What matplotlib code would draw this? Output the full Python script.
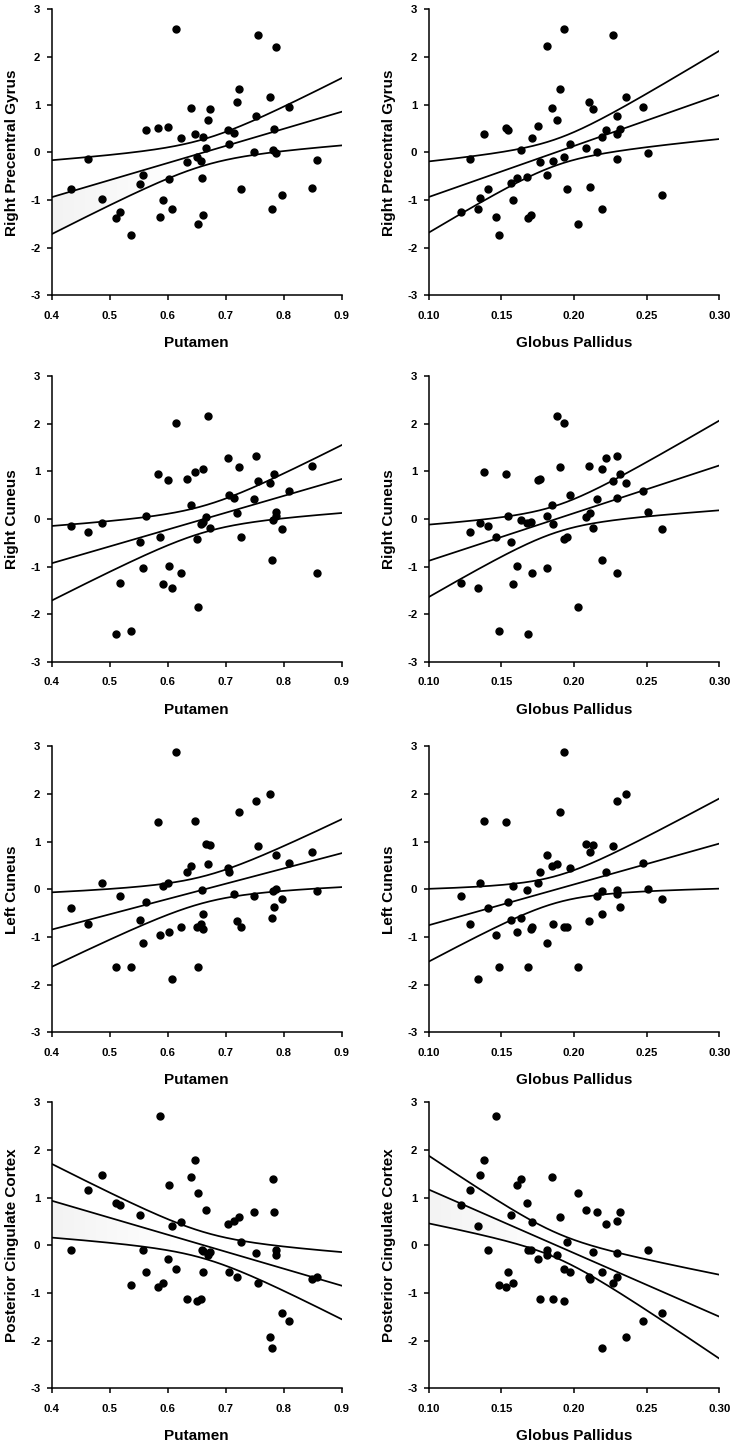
import numpy as np
import matplotlib
matplotlib.use('Agg')
import matplotlib.pyplot as plt
from matplotlib.patches import Polygon
from matplotlib.colors import LinearSegmentedColormap

plt.rcParams['font.family'] = ['Liberation Sans', 'DejaVu Sans']
plt.rcParams['font.weight'] = 'bold'

# ---------------- data ----------------
putamen = [0.434, 0.463, 0.486, 0.510, 0.517, 0.536, 0.553, 0.558, 0.562, 0.583,
           0.587, 0.592, 0.600, 0.603, 0.607, 0.614, 0.623, 0.633, 0.640, 0.647,
           0.650, 0.653, 0.657, 0.659, 0.661, 0.661, 0.666, 0.670, 0.673, 0.704,
           0.705, 0.714, 0.719, 0.723, 0.726, 0.749, 0.752, 0.756, 0.776, 0.779,
           0.781, 0.784, 0.787, 0.787, 0.797, 0.809, 0.849, 0.858]

globus_pallidus = [0.1225, 0.1282, 0.1342, 0.1356, 0.1383, 0.1406, 0.1466, 0.1486, 0.1534, 0.1546,
                   0.1569, 0.1580, 0.1610, 0.1638, 0.1677, 0.1683, 0.1702, 0.1713, 0.1750, 0.1764,
                   0.1817, 0.1817, 0.1851, 0.1856, 0.1885, 0.1904, 0.1929, 0.1929, 0.1952, 0.1972,
                   0.2028, 0.2080, 0.2101, 0.2110, 0.2128, 0.2161, 0.2190, 0.2195, 0.2220, 0.2266,
                   0.2294, 0.2298, 0.2298, 0.2319, 0.2356, 0.2475, 0.2507, 0.2608]

# y values aligned with the putamen list
rpg_vs_putamen = [-0.76, -0.15, -0.97, -1.37, -1.26, -1.73, -0.66, -0.48, 0.47, 0.51,
                  -1.35, -1.01, 0.54, -0.55, -1.19, 2.58, 0.30, -0.21, 0.93, 0.39,
                  -0.09, -1.50, -0.19, -0.53, -1.32, 0.32, 0.09, 0.68, 0.91, 0.47,
                  0.17, 0.40, 1.05, 1.32, -0.77, 0.00, 0.77, 2.47, 1.17, -1.19,
                  0.05, 0.49, -0.02, 2.21, -0.89, 0.96, -0.74, -0.16]
rcun_vs_putamen = [-0.14, -0.28, -0.09, -2.41, -1.34, -2.36, -0.48, -1.03, 0.07, 0.95,
                   -0.37, -1.36, 0.82, -0.98, -1.45, 2.01, -1.13, 0.84, 0.29, 0.99,
                   -0.41, -1.84, -0.10, -0.08, -0.06, 1.05, 0.05, 2.17, -0.18, 1.28,
                   0.51, 0.45, 0.12, 1.09, -0.37, 0.42, 1.33, 0.79, 0.76, -0.85,
                   -0.03, 0.94, 0.14, 0.07, -0.22, 0.59, 1.11, -1.14]
lcun_vs_putamen = [-0.39, -0.72, 0.13, -1.64, -0.14, -1.64, -0.65, -1.12, -0.26, 1.42,
                   -0.96, 0.06, 0.13, -0.89, -1.88, 2.89, -0.80, 0.36, 0.49, 1.43,
                   -0.80, -1.64, -0.72, -0.02, -0.51, -0.83, 0.94, 0.53, 0.92, 0.44,
                   0.37, -0.09, -0.67, 1.62, -0.80, -0.14, 1.86, 0.91, 2.00, -0.60,
                   -0.04, -0.37, 0.01, 0.71, -0.21, 0.56, 0.78, -0.03]
pcc_vs_putamen = [-0.10, 1.17, 1.48, 0.88, 0.85, -0.83, 0.63, -0.10, -0.57, -0.87,
                  2.71, -0.80, -0.29, 1.27, 0.41, -0.49, 0.49, -1.13, 1.44, 1.80,
                  -1.17, 1.10, -1.13, -0.10, -0.55, -0.13, 0.74, -0.21, -0.15, 0.44,
                  -0.56, 0.52, -0.66, 0.59, 0.06, 0.70, -0.17, -0.80, -1.92, -2.15,
                  1.39, 0.70, -0.09, -0.21, -1.43, -1.59, -0.71, -0.67]

# y values aligned with the globus pallidus list
rpg_vs_gp = [-1.26, -0.15, -1.19, -0.96, 0.39, -0.77, -1.35, -1.73, 0.52, 0.47,
             -0.65, -1.01, -0.54, 0.05, -0.52, -1.37, -1.32, 0.30, 0.55, -0.21,
             2.22, -0.48, 0.93, -0.19, 0.68, 1.32, 2.58, -0.10, -0.77, 0.18,
             -1.50, 0.09, 1.05, -0.73, 0.91, 0.00, 0.32, -1.19, 0.46, 2.47,
             -0.15, 0.77, 0.39, 0.49, 1.17, 0.96, -0.02, -0.89]
rcun_vs_gp = [-1.34, -0.28, -1.44, -0.09, 0.99, -0.14, -0.37, -2.36, 0.94, 0.07,
              -0.48, -1.36, -0.98, -0.03, -0.08, -2.41, -0.06, -1.13, 0.82, 0.84,
              0.06, -1.03, 0.29, -0.10, 2.17, 1.09, 2.01, -0.41, -0.37, 0.51,
              -1.84, 0.05, 1.12, 0.12, -0.18, 0.42, 1.05, -0.85, 1.28, 0.79,
              1.33, 0.45, -1.14, 0.94, 0.76, 0.59, 0.14, -0.22]
lcun_vs_gp = [-0.14, -0.72, -1.88, 0.13, 1.43, -0.39, -0.96, -1.64, 1.42, -0.26,
              -0.65, 0.06, -0.89, -0.60, -0.02, -1.64, -0.83, -0.80, 0.13, 0.36,
              0.71, -1.12, 0.49, -0.72, 0.53, 1.62, 2.89, -0.80, -0.80, 0.44,
              -1.64, 0.94, -0.67, 0.78, 0.92, -0.14, -0.51, -0.04, 0.37, 0.91,
              -0.09, 1.86, -0.02, -0.37, 2.00, 0.56, 0.01, -0.21]
pcc_vs_gp = [0.85, 1.17, 0.41, 1.48, 1.80, -0.10, 2.71, -0.83, -0.87, -0.57,
             0.63, -0.80, 1.27, 1.39, 0.88, -0.10, -0.10, 0.49, -0.29, -1.13,
             -0.10, -0.21, 1.44, -1.13, -0.21, 0.59, -0.49, -1.17, 0.06, -0.55,
             1.10, 0.74, -0.66, -0.71, -0.15, 0.70, -0.56, -2.15, 0.44, -0.80,
             0.52, -0.17, -0.67, 0.70, -1.92, -1.59, -0.09, -1.43]

row_labels = ['Right Precentral Gyrus', 'Right Cuneus', 'Left Cuneus',
              'Posterior Cingulate Cortex']
col_labels = ['Putamen', 'Globus Pallidus']
putamen_ticks = [0.4, 0.5, 0.6, 0.7, 0.8, 0.9]
gp_ticks = [0.10, 0.15, 0.20, 0.25, 0.30]
y_ticks = [-3, -2, -1, 0, 1, 2, 3]

panels = [
    [(putamen, rpg_vs_putamen), (globus_pallidus, rpg_vs_gp)],
    [(putamen, rcun_vs_putamen), (globus_pallidus, rcun_vs_gp)],
    [(putamen, lcun_vs_putamen), (globus_pallidus, lcun_vs_gp)],
    [(putamen, pcc_vs_putamen), (globus_pallidus, pcc_vs_gp)],
]
shaded = [[True, False], [False, False], [False, False], [True, True]]

# ---------------- layout ----------------
W, H = 734, 1444
fig = plt.figure(figsize=(W / 100, H / 100), dpi=100)
col_left = [51.7, 428.7]
col_width = [290.0, 290.6]
row_top = [9.3, 376.0, 746.3, 1102.3]
row_height = 286.0

T_CRIT = 2.013  # t(0.975, df=46)
shade_cmap = LinearSegmentedColormap.from_list('shade', ['#ffffff', '#f3f3f3'])

for r in range(4):
    for c in range(2):
        x = np.asarray(panels[r][c][0], float)
        y = np.asarray(panels[r][c][1], float)
        ax = fig.add_axes([col_left[c] / W, 1 - (row_top[r] + row_height) / H,
                           col_width[c] / W, row_height / H])
        ticks = putamen_ticks if c == 0 else gp_ticks
        xmin, xmax = ticks[0], ticks[-1]

        # OLS fit with 95% confidence band of the mean
        n = len(x)
        b1, b0 = np.polyfit(x, y, 1)
        resid = y - (b0 + b1 * x)
        s = np.sqrt(np.sum(resid ** 2) / (n - 2))
        xbar = x.mean()
        sxx = np.sum((x - xbar) ** 2)
        xs = np.linspace(xmin, xmax, 300)
        fit = b0 + b1 * xs
        half = T_CRIT * s * np.sqrt(1.0 / n + (xs - xbar) ** 2 / sxx)
        upper, lower = fit + half, fit - half

        if shaded[r][c]:
            verts = np.vstack([np.column_stack([xs, fit]),
                               np.column_stack([xs[::-1], lower[::-1]])])
            poly = Polygon(verts, closed=True, facecolor='none', edgecolor='none')
            ax.add_patch(poly)
            grad = np.clip(1 - (np.linspace(0, 1, 256)) / 0.45, 0, 1)
            img = ax.imshow(grad[None, :], extent=[xmin, xmax, -3, 3], aspect='auto',
                            cmap=shade_cmap, vmin=0, vmax=1, zorder=1,
                            interpolation='bilinear')
            img.set_clip_path(poly)

        for band in (upper, fit, lower):
            ax.plot(xs, band, color='black', lw=1.25, zorder=2)
        ax.plot(x, y, 'o', color='black', ms=5.0, mec='black', zorder=3,
                clip_on=False)

        ax.set_xlim(xmin, xmax)
        ax.set_ylim(-3, 3)
        ax.set_xticks(ticks)
        ax.set_yticks(y_ticks)
        if c == 0:
            ax.set_xticklabels([f'{t:.1f}' for t in ticks])
        else:
            ax.set_xticklabels([f'{t:.2f}' for t in ticks])
        ax.set_yticklabels([str(t) for t in y_ticks])
        for side in ('top', 'right'):
            ax.spines[side].set_visible(False)
        for side in ('left', 'bottom'):
            ax.spines[side].set_linewidth(1.1)
        ax.tick_params(axis='both', direction='out', length=3.6, width=1.1,
                       labelsize=8.2)
        ax.tick_params(axis='x', pad=7.5)
        ax.tick_params(axis='y', pad=4.5)
        for lab in ax.get_xticklabels() + ax.get_yticklabels():
            lab.set_fontweight('bold')
        ax.set_xlabel(col_labels[c], fontsize=11, fontweight='bold', labelpad=11)
        ax.set_ylabel(row_labels[r], fontsize=11, fontweight='bold', labelpad=8)

fig.savefig('out.png', dpi=100)
